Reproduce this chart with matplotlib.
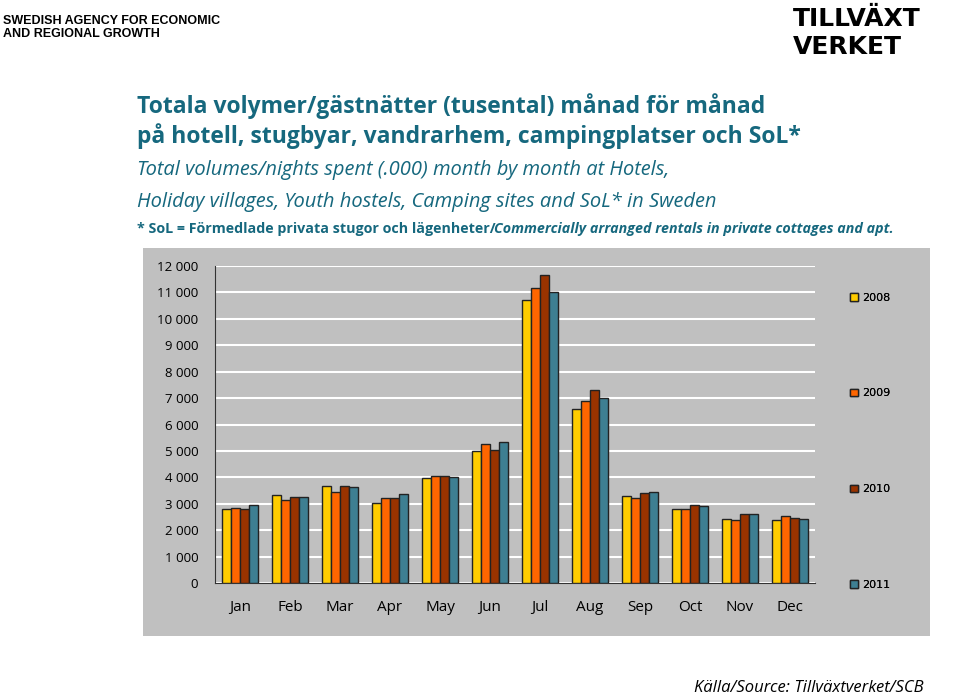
import numpy as np
import matplotlib.pyplot as plt

# === Data (tusental gästnätter)
months = ["Jan", "Feb", "Mar", "Apr", "May", "Jun", "Jul", "Aug", "Sep", "Oct", "Nov", "Dec"]
years = ["2008", "2009", "2010", "2011"]
v2008 = [2800, 3330, 3660, 3040, 3990, 5000, 10720, 6570, 3310, 2790, 2420, 2370]
v2009 = [2840, 3160, 3460, 3210, 4040, 5260, 11150, 6900, 3230, 2820, 2380, 2530]
v2010 = [2800, 3240, 3660, 3210, 4040, 5020, 11650, 7300, 3400, 2950, 2630, 2460]
v2011 = [2940, 3240, 3630, 3360, 4000, 5330, 11000, 7000, 3440, 2920, 2630, 2420]
yticks = [0, 1000, 2000, 3000, 4000, 5000, 6000, 7000, 8000, 9000, 10000, 11000, 12000]

colors = ["#FFCC00", "#FF6600", "#993300", "#3E7F92"]
teal = "#16687E"

fig = plt.figure(figsize=(9.6, 7.0), dpi=100)

# header
fig.text(0.003, 0.978, "SWEDISH AGENCY FOR ECONOMIC\nAND REGIONAL GROWTH", fontsize=9,
         weight="bold", family="Liberation Sans", va="top", linespacing=1.1)
fig.text(0.826, 0.99, "TILLVÄXT", fontsize=18, weight="heavy", family="DejaVu Sans", va="top")
fig.text(0.826, 0.95, "VERKET", fontsize=18, weight="heavy", family="DejaVu Sans", va="top")

# titles
fig.text(0.143, 0.848, "Totala volymer/gästnätter (tusental) månad för månad", fontsize=16.5,
         weight="bold", color=teal, family="Open Sans", va="center")
fig.text(0.143, 0.805, "på hotell, stugbyar, vandrarhem, campingplatser och SoL*", fontsize=16.5,
         weight="bold", color=teal, family="Open Sans", va="center")
fig.text(0.143, 0.757, "Total volumes/nights spent (.000) month by month at Hotels,", fontsize=14.5,
         style="italic", color=teal, family="Open Sans", va="center")
fig.text(0.143, 0.712, "Holiday villages, Youth hostels, Camping sites and SoL* in Sweden", fontsize=14.5,
         style="italic", color=teal, family="Open Sans", va="center")
t1 = fig.text(0.143, 0.673, "* SoL = Förmedlade privata stugor och lägenheter/", fontsize=10.3,
              weight="bold", color=teal, family="Open Sans", va="center")
r = fig.canvas.get_renderer()
bb = t1.get_window_extent(r).transformed(fig.transFigure.inverted())
fig.text(bb.x1 - 0.002, 0.673, "Commercially arranged rentals in private cottages and apt.", fontsize=10.3,
         weight="bold", style="italic", color=teal, family="Open Sans", va="center")

# grey chart background
bg = fig.add_axes([0.149, 0.091, 0.82, 0.555], zorder=-1)
bg.set_facecolor("#C0C0C0")
bg.set_xticks([])
bg.set_yticks([])
for s in bg.spines.values():
    s.set_visible(False)

ax = fig.add_axes([0.224, 0.167, 0.625, 0.453])
ax.set_facecolor("#C0C0C0")
x = np.arange(len(months))
w = 0.18
series = [v2008, v2009, v2010, v2011]
for i, (vals, c, y) in enumerate(zip(series, colors, years)):
    ax.bar(x + (i - 1.5) * w, vals, w, color=c, edgecolor="#222222", linewidth=1, label=y, zorder=3)

ax.set_ylim(0, 12000)
ax.set_xlim(-0.5, 11.5)
ax.set_yticks(yticks)
ax.set_yticklabels([f"{t:,}".replace(",", " ") for t in yticks])
ax.set_xticks(x)
ax.set_xticklabels(months)
ax.yaxis.grid(True, color="white", linewidth=1.5, zorder=0)
ax.set_axisbelow(True)
for s in ["top", "right"]:
    ax.spines[s].set_visible(False)
ax.spines["left"].set_color("#333333")
ax.spines["bottom"].set_color("#333333")
ax.tick_params(length=0)
ax.tick_params(axis="x", labelsize=11, pad=12)
ax.tick_params(axis="y", labelsize=9.5, pad=12)
for lab in ax.get_xticklabels() + ax.get_yticklabels():
    lab.set_family("Open Sans")

# legend entries spread vertically
handles, labels = ax.get_legend_handles_labels()
for k, (h, l) in enumerate(zip(handles, labels)):
    leg = fig.legend([h], [l], loc="center left", bbox_to_anchor=(0.875, 0.575 - k * 0.137),
                     frameon=False, fontsize=8, handlelength=0.7, handleheight=0.7,
                     handletextpad=0.4)
    fig.add_artist(leg)

fig.text(0.962, 0.012, "Källa/Source: Tillväxtverket/SCB", fontsize=12, style="italic",
         ha="right", family="Open Sans")

fig.savefig("out.png", dpi=100)
